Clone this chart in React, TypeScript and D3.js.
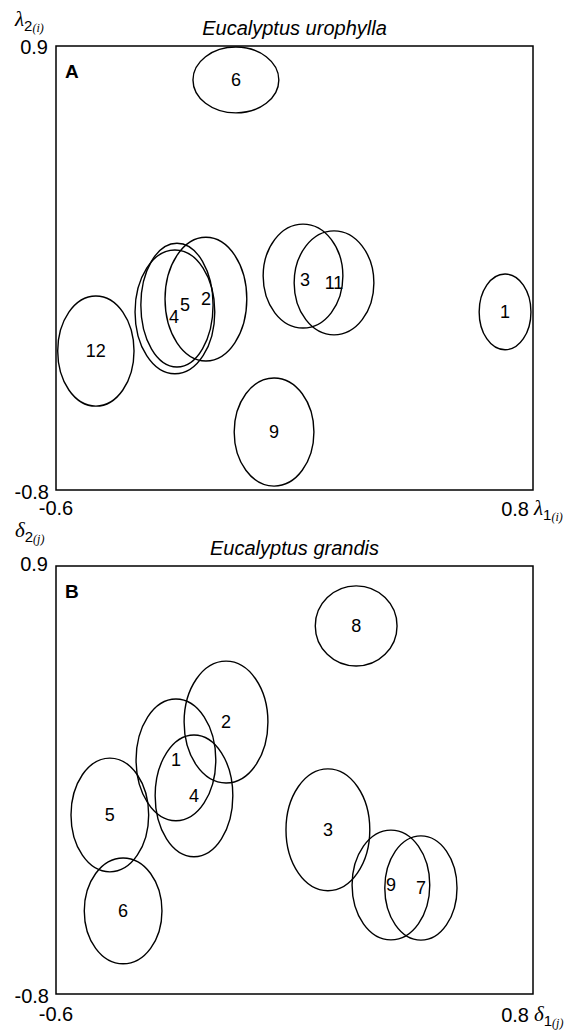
import React, { useEffect, useRef } from "react";
import * as d3 from "d3";

const W = 573;
const H = 1033;

const xDomain = [-0.6, 0.8];
const yDomain = [-0.8, 0.9];

// Panel A - Eucalyptus urophylla
const namesA = ["6", "3", "11", "1", "12", "4", "5", "2", "9"];
const cxA = [-0.072, 0.125, 0.216, 0.718, -0.483, -0.251, -0.245, -0.16, 0.04];
const cyA = [0.77, 0.019, -0.007, -0.118, -0.268, -0.118, -0.092, -0.069, -0.578];
const rxA = [0.126, 0.117, 0.117, 0.076, 0.112, 0.117, 0.106, 0.12, 0.117];
const ryA = [0.126, 0.199, 0.199, 0.145, 0.211, 0.237, 0.237, 0.237, 0.207];

// Panel B - Eucalyptus grandis
const namesB = ["8", "2", "1", "4", "5", "6", "3", "9", "7"];
const cxB = [0.281, -0.101, -0.248, -0.195, -0.442, -0.403, 0.198, 0.383, 0.471];
const cyB = [0.662, 0.28, 0.13, -0.013, -0.089, -0.47, -0.148, -0.367, -0.379];
const rxB = [0.12, 0.123, 0.117, 0.114, 0.114, 0.114, 0.123, 0.114, 0.106];
const ryB = [0.159, 0.242, 0.242, 0.242, 0.226, 0.21, 0.242, 0.218, 0.207];

// labels that sit off the ellipse centre (px)
const labelShiftA: Record<string, [number, number]> = {
  "4": [-1, 5],
  "5": [8, 0],
  "3": [2, 4],
};

const FONT = "'Liberation Sans', Arial, sans-serif";
const SERIF = "'Liberation Serif', 'Times New Roman', serif";

function symLabel(g, x, y, sym, num, sub) {
  const t = g.append("text").attr("x", x).attr("y", y).attr("font-size", 21);
  t.append("tspan").attr("font-family", SERIF).attr("font-style", "italic").text(sym);
  t.append("tspan").attr("font-family", FONT).attr("font-size", 15).attr("dy", 5).text(num);
  t.append("tspan").attr("font-family", SERIF).attr("font-style", "italic").attr("font-size", 12).attr("dy", 1).text(sub);
}

function drawPanel(svg, o) {
  const x = d3.scaleLinear().domain(xDomain).range([o.left, o.right]);
  const y = d3.scaleLinear().domain(yDomain).range([o.bottom, o.top]);
  const g = svg.append("g");
  const fmt = (v) => d3.format(".1f")(v).replace("−", "-");

  // title, centred over the frame
  g.append("text")
    .attr("x", (o.left + o.right) / 2)
    .attr("y", o.top - 11)
    .attr("text-anchor", "middle")
    .attr("font-family", FONT)
    .attr("font-style", "italic")
    .attr("font-size", 20)
    .text(o.title);

  // frame
  g.append("rect")
    .attr("x", o.left)
    .attr("y", o.top)
    .attr("width", o.right - o.left)
    .attr("height", o.bottom - o.top)
    .attr("fill", "none")
    .attr("stroke", "#000")
    .attr("stroke-width", 1.5);

  g.append("text")
    .attr("x", o.left + 9)
    .attr("y", o.top + 32)
    .attr("font-family", FONT)
    .attr("font-weight", "bold")
    .attr("font-size", 19)
    .text(o.tag);

  const tick = (tx, ty, v, anchor) =>
    g.append("text")
      .attr("x", tx)
      .attr("y", ty)
      .attr("dy", "0.35em")
      .attr("text-anchor", anchor)
      .attr("font-family", FONT)
      .attr("font-size", 20)
      .text(fmt(v));

  // end-of-range labels
  tick(o.left - 8, y(0.9) + o.topTickDy, 0.9, "end");
  tick(o.left - 7, y(-0.8) + 2, -0.8, "end");
  tick(x(-0.6), o.bottom + o.xTickDy, -0.6, "middle");
  tick(x(0.8) - 4, o.bottom + o.xTickDy + 1, 0.8, "end");

  symLabel(g, x(0.8) + 1, o.bottom + o.xTickDy + 7, o.sym, "1", o.sub);
  symLabel(g, 15, o.symY, o.sym, "2", o.sub);

  // ellipses
  const idx = d3.range(o.names.length);
  g.append("g")
    .selectAll("ellipse")
    .data(idx)
    .join("ellipse")
    .attr("cx", (i) => x(o.cx[i]))
    .attr("cy", (i) => y(o.cy[i]))
    .attr("rx", (i) => x(o.cx[i] + o.rx[i]) - x(o.cx[i]))
    .attr("ry", (i) => y(o.cy[i]) - y(o.cy[i] + o.ry[i]))
    .attr("fill", "none")
    .attr("stroke", "#000")
    .attr("stroke-width", 1.4);

  g.append("g")
    .selectAll("text")
    .data(idx)
    .join("text")
    .attr("x", (i) => x(o.cx[i]) + (o.shift[o.names[i]] ? o.shift[o.names[i]][0] : 0))
    .attr("y", (i) => y(o.cy[i]) + (o.shift[o.names[i]] ? o.shift[o.names[i]][1] : 0))
    .attr("dy", "0.35em")
    .attr("text-anchor", "middle")
    .attr("font-family", FONT)
    .attr("font-size", 18)
    .text((i) => o.names[i]);
}

export default function App() {
  const svgRef = useRef(null);

  useEffect(() => {
    document.body.style.margin = "0";
    const svg = d3.select(svgRef.current);
    svg.selectAll("*").remove();
    svg.append("rect").attr("width", W).attr("height", H).attr("fill", "#fff");

    drawPanel(svg, {
      top: 46,
      bottom: 490,
      left: 56,
      right: 533,
      names: namesA,
      cx: cxA,
      cy: cyA,
      rx: rxA,
      ry: ryA,
      shift: labelShiftA,
      title: "Eucalyptus urophylla",
      tag: "A",
      sym: "λ",
      sub: "(i)",
      symY: 26,
      topTickDy: 1,
      xTickDy: 18,
    });

    drawPanel(svg, {
      top: 566,
      bottom: 994,
      left: 56,
      right: 533,
      names: namesB,
      cx: cxB,
      cy: cyB,
      rx: rxB,
      ry: ryB,
      shift: {},
      title: "Eucalyptus grandis",
      tag: "B",
      sym: "δ",
      sub: "(j)",
      symY: 537,
      topTickDy: -2,
      xTickDy: 20,
    });
  });

  return <svg ref={svgRef} width={W} height={H} style={{ display: "block" }}></svg>;
}
